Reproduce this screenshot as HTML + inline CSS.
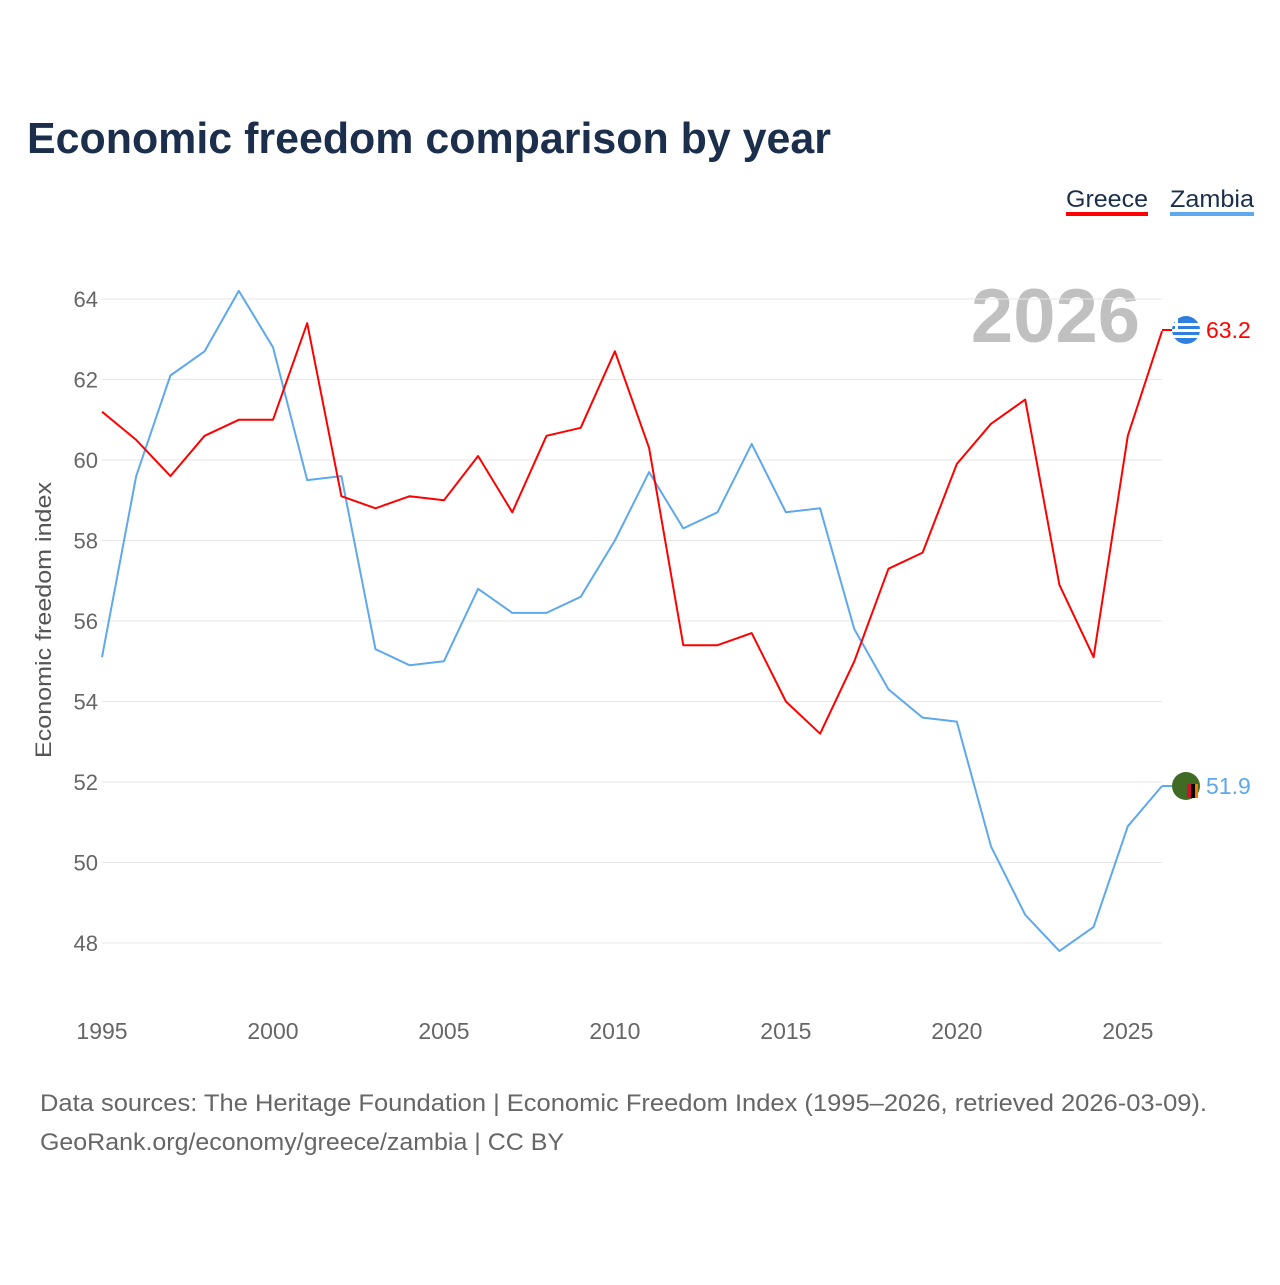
<!DOCTYPE html>
<html><head><meta charset="utf-8"><style>
body{margin:0;background:#fff;width:1280px;height:1280px;overflow:hidden;font-family:"Liberation Sans",sans-serif}
</style></head><body>
<svg width="1280" height="1280" xmlns="http://www.w3.org/2000/svg">
<text x="27" y="153" font-size="44" font-weight="bold" fill="#1b2f4d" textLength="804" lengthAdjust="spacingAndGlyphs">Economic freedom comparison by year</text>
<g>
<text x="1066" y="207" font-size="24" fill="#1b2f4d" textLength="82" lengthAdjust="spacingAndGlyphs">Greece</text>
<rect x="1066" y="212" width="82" height="4" fill="#ff0000"/>
<text x="1170" y="207" font-size="24" fill="#1b2f4d" textLength="84" lengthAdjust="spacingAndGlyphs">Zambia</text>
<rect x="1170" y="212" width="84" height="4" fill="#5ea8ee"/>
</g>
<text x="1140" y="342" font-size="76" font-weight="bold" fill="#c0c0c0" text-anchor="end">2026</text>
<g id="grid"></g>
<g id="yt"></g>
<g id="xt"></g>
<text transform="translate(51,620) rotate(-90)" font-size="22" fill="#555" text-anchor="middle" textLength="276" lengthAdjust="spacingAndGlyphs">Economic freedom index</text>
<g id="lines"></g>
<line x1="1162" y1="330" x2="1172" y2="330" stroke="#ff0000" stroke-width="2"/>
<line x1="1162" y1="786" x2="1172" y2="786" stroke="#5ea8ee" stroke-width="2"/>
<g>
<circle cx="1186" cy="330" r="14" fill="#2f7fe0"/>
<rect x="1172" y="323" width="28" height="3" fill="#fff"/><rect x="1172" y="329" width="28" height="3" fill="#fff"/><rect x="1172" y="335" width="28" height="3" fill="#fff"/>
<rect x="1175" y="318" width="3" height="12" fill="#fff"/>
<text x="1206" y="338" font-size="23" fill="#ff0000">63.2</text>
</g>
<g>
<circle cx="1186" cy="786" r="14" fill="#3f6b25"/>
<rect x="1187" y="784" width="4" height="14" fill="#d21034"/><rect x="1191" y="784" width="4" height="14" fill="#000"/><rect x="1195" y="784" width="3" height="14" fill="#ef7d00"/>
<text x="1206" y="794" font-size="23" fill="#5ea8ee">51.9</text>
</g>
<text x="40" y="1111" font-size="24" fill="#666" textLength="1167" lengthAdjust="spacingAndGlyphs">Data sources: The Heritage Foundation | Economic Freedom Index (1995–2026, retrieved 2026-03-09).</text>
<text x="40" y="1150" font-size="24" fill="#666" textLength="524" lengthAdjust="spacingAndGlyphs">GeoRank.org/economy/greece/zambia | CC BY</text>
</svg>
<script>
const years=[1995,1996,1997,1998,1999,2000,2001,2002,2003,2004,2005,2006,2007,2008,2009,2010,2011,2012,2013,2014,2015,2016,2017,2018,2019,2020,2021,2022,2023,2024,2025,2026];
const greece=[61.2,60.5,59.6,60.6,61.0,61.0,63.4,59.1,58.8,59.1,59.0,60.1,58.7,60.6,60.8,62.7,60.3,55.4,55.4,55.7,54.0,53.2,55.0,57.3,57.7,59.9,60.9,61.5,56.9,55.1,60.6,63.2];
const zambia=[55.1,59.6,62.1,62.7,64.2,62.8,59.5,59.6,55.3,54.9,55.0,56.8,56.2,56.2,56.6,58.0,59.7,58.3,58.7,60.4,58.7,58.8,55.8,54.3,53.6,53.5,50.4,48.7,47.8,48.4,50.9,51.9];
const yTicks=[48,50,52,54,56,58,60,62,64];
const xTicks=[1995,2000,2005,2010,2015,2020,2025];
const NS="http://www.w3.org/2000/svg";
const X=y=>102+(y-1995)*(1060/31);
const Y=v=>299+(64-v)*40.25;
function mk(t,a,p){const e=document.createElementNS(NS,t);for(const k in a)e.setAttribute(k,a[k]);p.appendChild(e);return e;}
const grid=document.getElementById('grid'),yt=document.getElementById('yt'),xt=document.getElementById('xt'),lines=document.getElementById('lines');
yTicks.forEach(v=>{
 const l=mk('line',{x1:102,x2:1162,y1:Y(v),y2:Y(v),stroke:'#e6e6e6','stroke-width':1},grid);
 
 
 const t=mk('text',{x:98,y:Y(v)+8,'font-size':22,fill:'#666','text-anchor':'end'},yt);
 t.textContent=v;
 
 
});
xTicks.forEach(v=>{
 const t=mk('text',{x:X(v),y:1039,'font-size':23,fill:'#666','text-anchor':'middle'},xt);
 t.textContent=v;
 
 
});
function line(vals,col,name){
 const p=mk('path',{d:vals.map((v,i)=>(i?'L':'M')+X(years[i]).toFixed(1)+','+Y(v).toFixed(1)).join(''),fill:'none',stroke:col,'stroke-width':2,'stroke-linejoin':'round'},lines);
 
 
}
line(zambia,'#5ea8ee','zambia-line');
line(greece,'#ff0000','greece-line');
</script>
</body></html>
